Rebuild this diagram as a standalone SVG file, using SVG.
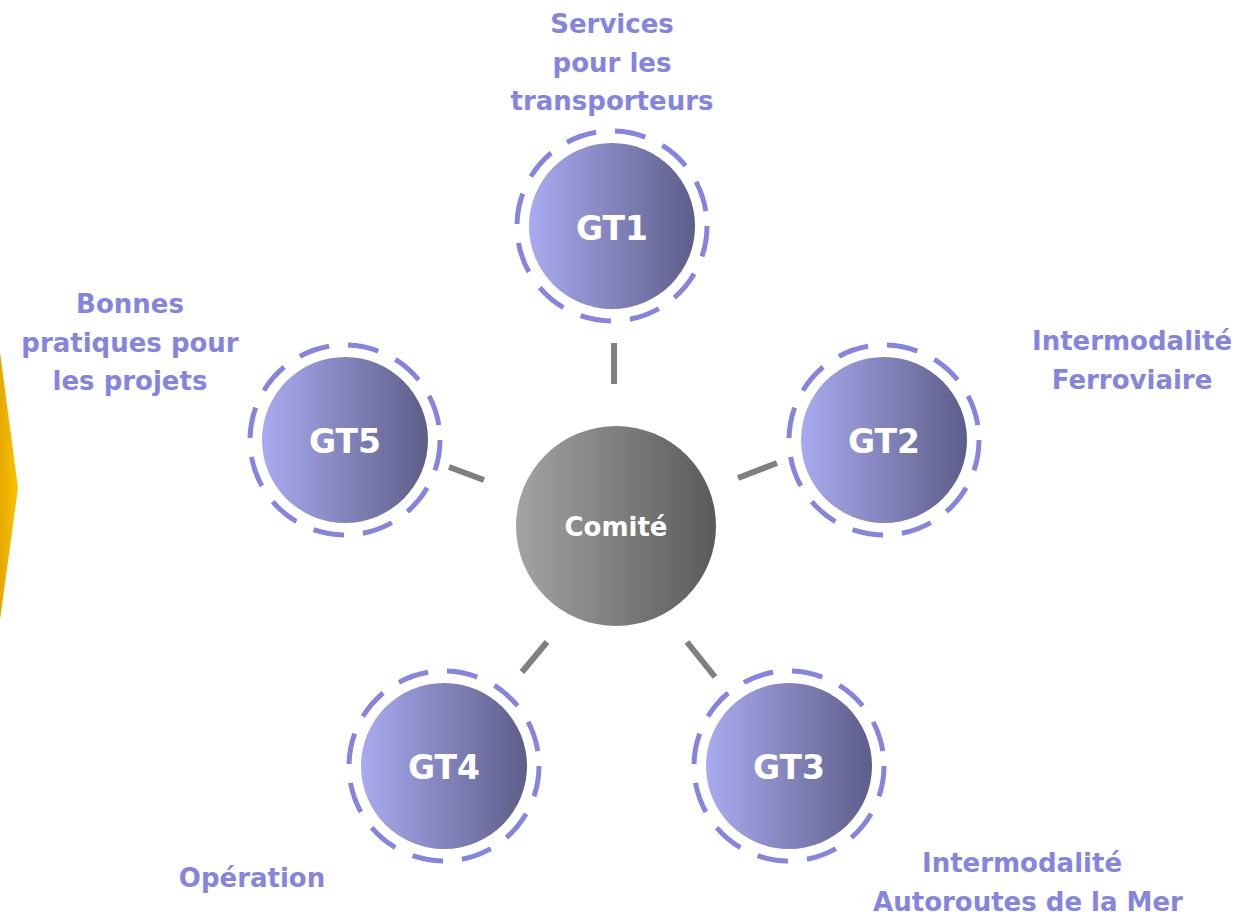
<svg xmlns="http://www.w3.org/2000/svg" width="1250" height="917" viewBox="0 0 1250 917">
  <defs>
    <linearGradient id="gtGrad" x1="0" y1="0" x2="1" y2="0">
      <stop offset="0" stop-color="#a9abf0"/>
      <stop offset="1" stop-color="#5d5d88"/>
    </linearGradient>
    <linearGradient id="comGrad" x1="0" y1="0" x2="1" y2="0">
      <stop offset="0" stop-color="#a3a3a3"/>
      <stop offset="1" stop-color="#5a5a5a"/>
    </linearGradient>
    <linearGradient id="yelGrad" x1="0" y1="0" x2="1" y2="0">
      <stop offset="0" stop-color="#e8a800"/>
      <stop offset="1" stop-color="#f7c400"/>
    </linearGradient>
  </defs>
  <style>
    .gt { fill: url(#gtGrad); }
    .ring { fill: none; stroke: #8585e0; stroke-width: 5; stroke-dasharray: 31 19; }
    .gtText { font-family: "DejaVu Sans", sans-serif; font-weight: bold; font-size: 33px; fill: #ffffff; text-anchor: middle; }
    .lbl { font-family: "DejaVu Sans", sans-serif; font-weight: bold; font-size: 26px; fill: #8585e0; text-anchor: middle; }
    .conn { stroke: #808080; stroke-width: 6; fill: none; }
  </style>
  <rect width="1250" height="917" fill="#ffffff"/>
  <polygon points="0,352 18,488 0,620" fill="url(#yelGrad)"/>

  <g id="connectors">
    <line class="conn" x1="614" y1="343" x2="614" y2="384"/>
    <line class="conn" x1="449" y1="467" x2="484" y2="480"/>
    <line class="conn" x1="738" y1="478" x2="777" y2="463"/>
    <line class="conn" x1="547" y1="642" x2="522" y2="672"/>
    <line class="conn" x1="687" y1="642" x2="715" y2="677"/>
  </g>

  <g id="comite">
    <circle cx="616" cy="526" r="100" fill="url(#comGrad)"/>
    <text x="616" y="536" font-family="DejaVu Sans, sans-serif" font-weight="bold" font-size="26" fill="#ffffff" text-anchor="middle">Comité</text>
  </g>

  <g id="gt1">
    <circle class="gt" cx="612" cy="226" r="83"/>
    <circle class="ring" cx="612" cy="226" r="95"/>
    <text class="gtText" x="612" y="240">GT1</text>
    <text class="lbl" x="612" y="33">Services</text>
    <text class="lbl" x="612" y="72">pour les</text>
    <text class="lbl" x="612" y="110">transporteurs</text>
  </g>

  <g id="gt2">
    <circle class="gt" cx="884" cy="440" r="83"/>
    <circle class="ring" cx="884" cy="440" r="95"/>
    <text class="gtText" x="884" y="453">GT2</text>
    <text class="lbl" x="1132" y="350">Intermodalité</text>
    <text class="lbl" x="1132" y="389">Ferroviaire</text>
  </g>

  <g id="gt3">
    <circle class="gt" cx="789" cy="766" r="83"/>
    <circle class="ring" cx="789" cy="766" r="95"/>
    <text class="gtText" x="789" y="779">GT3</text>
    <text class="lbl" x="1022" y="872">Intermodalité</text>
    <text class="lbl" x="1028" y="911">Autoroutes de la Mer</text>
  </g>

  <g id="gt4">
    <circle class="gt" cx="444" cy="766" r="83"/>
    <circle class="ring" cx="444" cy="766" r="95"/>
    <text class="gtText" x="444" y="779">GT4</text>
    <text class="lbl" x="252" y="887">Opération</text>
  </g>

  <g id="gt5">
    <circle class="gt" cx="345" cy="440" r="83"/>
    <circle class="ring" cx="345" cy="440" r="95"/>
    <text class="gtText" x="345" y="453">GT5</text>
    <text class="lbl" x="130" y="313">Bonnes</text>
    <text class="lbl" x="130" y="352">pratiques pour</text>
    <text class="lbl" x="130" y="390">les projets</text>
  </g>
</svg>
